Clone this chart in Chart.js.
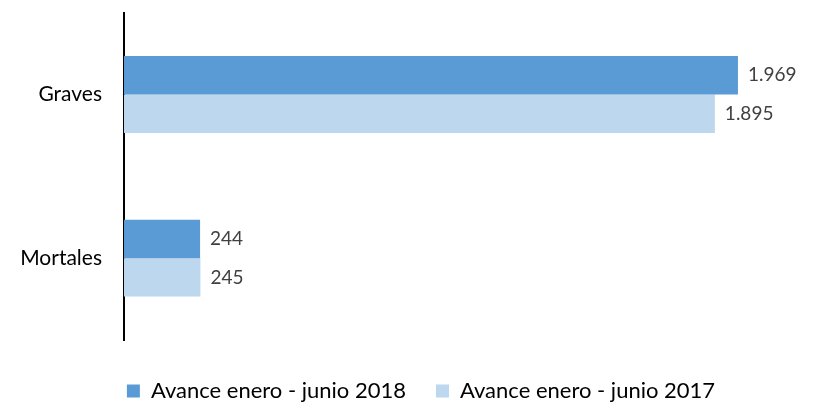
<!DOCTYPE html>
<html>
<head>
<meta charset="utf-8">
<script src="https://cdn.jsdelivr.net/npm/chart.js@4/dist/chart.umd.min.js"></script>
<style>
  html, body { margin: 0; padding: 0; background: #fff; }
  canvas { display: block; }
</style>
</head>
<body>
<canvas id="chart" width="824" height="403"></canvas>
<script>
const categories = ["Graves", "Mortales"];
const series2018 = [1969, 244];
const series2017 = [1895, 245];
const seriesNames = ["Avance enero - junio 2018", "Avance enero - junio 2017"];

const fontFamily = "Lato, 'Open Sans', sans-serif";

// value labels next to each bar, es-ES style thousands separator
const fmt = v => v.toLocaleString("de-DE");
const valueLabels = {
  id: "valueLabels",
  afterDatasetsDraw(chart) {
    const ctx = chart.ctx;
    ctx.save();
    ctx.font = "19px " + fontFamily;
    ctx.fillStyle = "#404040";
    ctx.textBaseline = "middle";
    ctx.textAlign = "left";
    chart.data.datasets.forEach((ds, i) => {
      chart.getDatasetMeta(i).data.forEach((bar, j) => {
        ctx.fillText(fmt(ds.data[j]), bar.x + 10, bar.y);
      });
    });
    ctx.restore();
  }
};

new Chart(document.getElementById("chart"), {
  type: "bar",
  data: {
    labels: categories,
    datasets: [
      { label: seriesNames[0], data: series2018, backgroundColor: "#5B9BD5" },
      { label: seriesNames[1], data: series2017, backgroundColor: "#BDD7EE" }
    ]
  },
  options: {
    indexAxis: "y",
    responsive: false,
    animation: false,
    categoryPercentage: 0.47,
    barPercentage: 1,
    layout: { padding: { top: 0, right: 0, bottom: 0, left: 18 } },
    plugins: {
      legend: {
        position: "bottom",
        maxHeight: 63,
        // empty title only used as a spacer above the legend row
        title: { display: true, text: "", font: { size: 10, lineHeight: 1 }, padding: 0 },
        labels: {
          font: { family: fontFamily, size: 22 },
          color: "#000",
          boxWidth: 13,
          boxHeight: 13,
          padding: 30
        }
      },
      tooltip: { enabled: false }
    },
    scales: {
      x: { display: false, min: 0, max: 2245 },
      y: {
        grid: { display: true, drawOnChartArea: false, drawTicks: true, tickLength: 22, color: "rgba(0,0,0,0)" },
        border: { display: true, color: "#000", width: 2 },
        ticks: { font: { family: fontFamily, size: 21 }, color: "#000", padding: 0 },
        afterFit(scale) { scale.width = 106; }
      }
    }
  },
  plugins: [valueLabels]
});
</script>
</body>
</html>
